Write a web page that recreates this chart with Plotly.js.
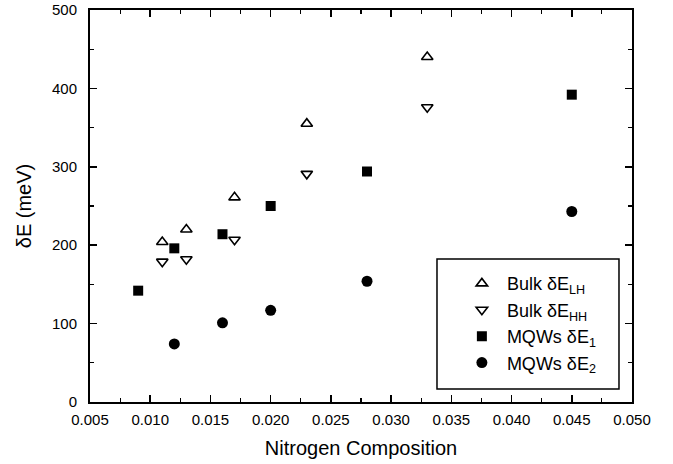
<!DOCTYPE html>
<html>
<head>
<meta charset="utf-8">
<script src="https://cdn.plot.ly/plotly-3.0.1.min.js"></script>
<style>html,body{margin:0;padding:0;background:#fff;}#chart{width:673px;height:464px;}</style>
</head>
<body>
<div id="chart"></div>
<script>
// Data
const bulkLH_x = [0.011, 0.013, 0.017, 0.023, 0.033];
const bulkLH_y = [204, 220, 261, 355, 440];
const bulkHH_x = [0.011, 0.013, 0.017, 0.023, 0.033];
const bulkHH_y = [179, 182, 207, 291, 376];
const mqwE1_x = [0.009, 0.012, 0.016, 0.020, 0.028, 0.045];
const mqwE1_y = [142, 196, 214, 250, 294, 392];
const mqwE2_x = [0.012, 0.016, 0.020, 0.028, 0.045];
const mqwE2_y = [74, 101, 117, 154, 243];
const seriesNames = ['Bulk δE<sub>LH</sub>', 'Bulk δE<sub>HH</sub>', 'MQWs δE<sub>1</sub>', 'MQWs δE<sub>2</sub>'];

const FONT = 'Liberation Sans, Arial, Helvetica, sans-serif';

const traces = [
  {x: bulkLH_x, y: bulkLH_y, name: seriesNames[0], mode: 'markers', type: 'scatter',
   marker: {symbol: 'triangle-up-open', size: 10, color: '#000', line: {width: 1.6, color: '#000'}}},
  {x: bulkHH_x, y: bulkHH_y, name: seriesNames[1], mode: 'markers', type: 'scatter',
   marker: {symbol: 'triangle-down-open', size: 10, color: '#000', line: {width: 1.6, color: '#000'}}},
  {x: mqwE1_x, y: mqwE1_y, name: seriesNames[2], mode: 'markers', type: 'scatter',
   marker: {symbol: 'square', size: 10, color: '#000'}},
  {x: mqwE2_x, y: mqwE2_y, name: seriesNames[3], mode: 'markers', type: 'scatter',
   marker: {symbol: 'circle', size: 11, color: '#000'}}
];

const layout = {
  width: 673, height: 464,
  margin: {l: 90, r: 41, t: 10, b: 62, pad: 0},
  paper_bgcolor: '#fff', plot_bgcolor: '#fff',
  font: {family: FONT, color: '#000', size: 15},
  showlegend: true,
  legend: {
    x: 0.64, y: 0.349, xanchor: 'left', yanchor: 'top',
    bgcolor: 'rgba(0,0,0,0)', borderwidth: 0,
    font: {family: FONT, size: 18, color: '#000'},
    indentation: 20, itemwidth: 40, tracegroupgap: 0
  },
  shapes: [
    {type: 'rect', xref: 'paper', yref: 'paper', x0: 0.6402, x1: 0.976, y0: 0.0332, y1: 0.3648,
     line: {color: '#000', width: 1.5}, fillcolor: 'rgba(0,0,0,0)', layer: 'above'}
  ],
  xaxis: {
    range: [0.005, 0.050], dtick: 0.005, tick0: 0.005, tickformat: '.3f',
    showgrid: false, zeroline: false,
    showline: true, linecolor: '#000', linewidth: 2, mirror: 'ticks',
    ticks: 'inside', ticklen: 7, tickwidth: 1.5, tickcolor: '#000',
    minor: {dtick: 0.0025, tick0: 0.005, ticks: 'inside', ticklen: 4, tickwidth: 1.2, tickcolor: '#000', showgrid: false},
    tickfont: {family: FONT, size: 15},
    ticklabelstandoff: 3,
    title: {text: 'Nitrogen Composition', font: {family: FONT, size: 20}, standoff: 14}
  },
  yaxis: {
    range: [0, 500], dtick: 100, tick0: 0,
    showgrid: false, zeroline: false,
    showline: true, linecolor: '#000', linewidth: 2, mirror: 'ticks',
    ticks: 'inside', ticklen: 7, tickwidth: 1.5, tickcolor: '#000',
    minor: {dtick: 50, tick0: 0, ticks: 'inside', ticklen: 4, tickwidth: 1.2, tickcolor: '#000', showgrid: false},
    tickfont: {family: FONT, size: 15},
    ticklabelstandoff: 8,
    title: {text: 'δE (meV)', font: {family: FONT, size: 20}, standoff: 15}
  }
};

Plotly.newPlot('chart', traces, layout, {displayModeBar: false, staticPlot: true});
</script>
</body>
</html>
